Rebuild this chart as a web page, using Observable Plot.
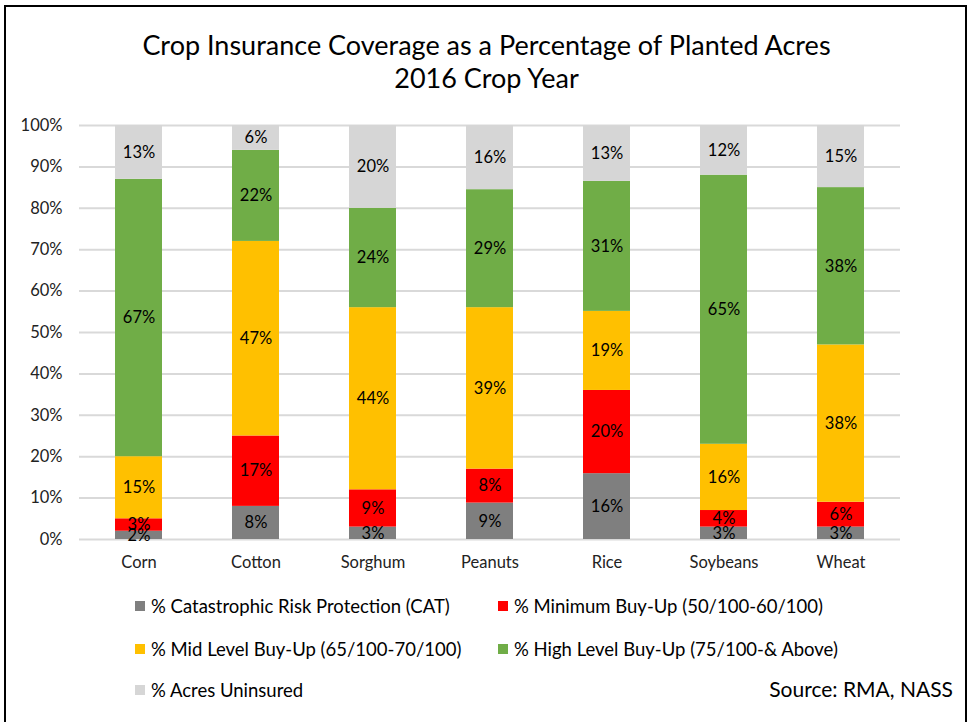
<!DOCTYPE html>
<html>
<head>
<meta charset="utf-8">
<script src="https://cdn.jsdelivr.net/npm/d3@7"></script>
<script src="https://cdn.jsdelivr.net/npm/@observablehq/plot@0.6"></script>
<style>
  html, body { margin: 0; padding: 0; background: #fff; }
  #wrap { position: relative; width: 973px; height: 722px; overflow: hidden; font-family: Lato, "Open Sans", sans-serif; }
  #frame { position: absolute; left: 4px; top: 5px; width: 963px; height: 730px; border: 2px solid #000; box-sizing: border-box; }
  .title { position: absolute; left: 0; width: 973px; text-align: center; font-size: 27px; color: #000; line-height: 1; }
  #chart { position: absolute; left: 0; top: 0; }
  .leg { position: absolute; font-size: 18.5px; color: #000; line-height: 1; white-space: nowrap; display: flex; align-items: center; }
  .sw { width: 10px; height: 10px; margin-right: 6px; display: inline-block; }
  #source { position: absolute; right: 20px; top: 678px; font-size: 21px; color: #000; line-height: 1; }
</style>
</head>
<body>
<div id="wrap">
  <div id="frame"></div>
  <div class="title" style="top:31px">Crop Insurance Coverage as a Percentage of Planted Acres</div>
  <div class="title" style="top:64px">2016 Crop Year</div>
  <div id="chart"></div>
  <div id="legend"></div>
  <div id="source">Source: RMA, NASS</div>
</div>
<script>
const crops = ["Corn", "Cotton", "Sorghum", "Peanuts", "Rice", "Soybeans", "Wheat"];
const seriesNames = [
  "% Catastrophic Risk Protection (CAT)",
  "% Minimum Buy-Up (50/100-60/100)",
  "% Mid Level Buy-Up (65/100-70/100)",
  "% High Level Buy-Up (75/100-& Above)",
  "% Acres Uninsured"
];
const seriesColors = ["#7f7f7f", "#ff0000", "#ffc000", "#70ad47", "#d6d6d6"];
const catValues       = [2, 8, 3, 8.8, 15.9, 3, 3];
const minimumValues   = [3, 17, 9, 8.2, 20.1, 4, 6];
const midValues       = [15, 47, 44, 39, 19.1, 16, 38];
const highValues      = [67, 22, 24, 28.5, 31.4, 65, 38];
const uninsuredValues = [13, 6, 20, 15.5, 13.4, 12, 15];
const yTicks = [0, 10, 20, 30, 40, 50, 60, 70, 80, 90, 100];

const seriesValues = [catValues, minimumValues, midValues, highValues, uninsuredValues];
const rows = crops.flatMap((crop, i) =>
  seriesNames.map((s, j) => ({crop, series: s, value: seriesValues[j][i]}))
);

const stackOpts = {x: "crop", y: "value", z: "series", order: seriesNames};

const chart = Plot.plot({
  width: 973,
  height: 580,
  marginTop: 125,
  marginBottom: 41,
  marginLeft: 79,
  marginRight: 73,
  style: {fontFamily: "Lato, 'Open Sans', sans-serif", fontSize: "16.5px", color: "#222", background: "transparent"},
  x: {domain: crops, paddingInner: 0.6, paddingOuter: 0.3, label: null, tickSize: 0, tickPadding: 17},
  y: {domain: [0, 100], ticks: yTicks, tickFormat: d => d + "%", label: null, tickSize: 0, tickPadding: 17},
  color: {domain: seriesNames, range: seriesColors},
  marks: [
    Plot.ruleY(yTicks, {stroke: "#d9d9d9", strokeWidth: 2}),
    Plot.barY(rows, Plot.stackY({...stackOpts, fill: "series"})),
    Plot.text(rows, Plot.stackY({...stackOpts, text: d => Math.round(d.value) + "%", fill: "#000", fontSize: 16.5}))
  ]
});
document.getElementById("chart").appendChild(chart);

// legend
const legendPos = [
  {left: 135, top: 597}, {left: 498, top: 597},
  {left: 135, top: 640}, {left: 498, top: 640},
  {left: 135, top: 681}
];
const legend = document.getElementById("legend");
seriesNames.forEach((s, i) => {
  const el = document.createElement("div");
  el.className = "leg";
  el.style.left = legendPos[i].left + "px";
  el.style.top = legendPos[i].top + "px";
  const sw = document.createElement("span");
  sw.className = "sw";
  sw.style.background = seriesColors[i];
  el.appendChild(sw);
  el.appendChild(document.createTextNode(s));
  legend.appendChild(el);
});
</script>
</body>
</html>
